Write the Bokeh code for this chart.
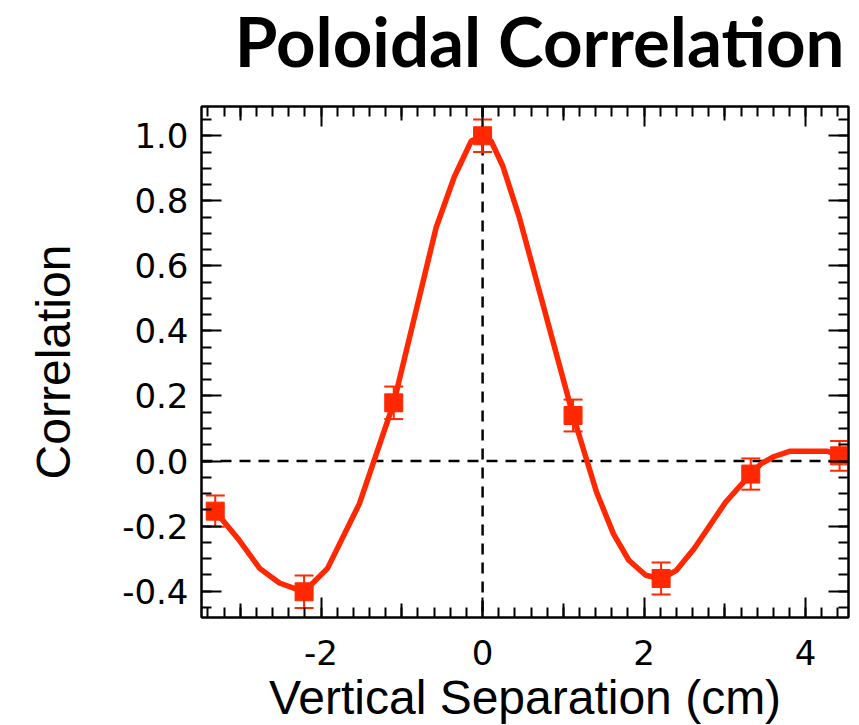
from bokeh.plotting import figure
from bokeh.models import (Range1d, LinearAxis, FixedTicker, Span, Whisker,
                          ColumnDataSource, TeeHead, Label)
from bokeh.embed import file_html
from bokeh.resources import INLINE

# Measured poloidal correlation versus vertical probe separation
SEPARATION = [-3.31, -2.21, -1.10, 0.0, 1.12, 2.21, 3.32, 4.42]
CORRELATION = [-0.154, -0.402, 0.179, 1.0, 0.140, -0.361, -0.040, 0.016]
ERROR = [0.048, 0.050, 0.050, 0.050, 0.049, 0.049, 0.048, 0.046]

# Smooth fit drawn through the measurements
FIT_X = [-3.31, -3.03, -2.76, -2.515, -2.21, -1.92, -1.525, -1.10, -0.575,
         -0.35, -0.14, 0.0, 0.105, 0.25, 0.455, 1.12, 1.41, 1.62, 1.81, 2.02,
         2.21, 2.40, 2.62, 3.01, 3.32, 3.45, 3.61, 3.80, 4.27, 4.42]
FIT_Y = [-0.154, -0.238, -0.330, -0.375, -0.402, -0.330, -0.131, 0.179, 0.718,
         0.874, 0.984, 1.0, 0.984, 0.907, 0.749, 0.140, -0.095, -0.224, -0.305,
         -0.351, -0.362, -0.336, -0.269, -0.126, -0.040, -0.008, 0.014, 0.030,
         0.030, 0.016]

X_TICKS = [-2, 0, 2, 4]
X_TICK_LABELS = ["-2", "0", "2", "4"]
X_MID_TICKS = [-3, -1, 1, 3]
X_MINOR_TICKS = [round(-3.4 + 0.2 * i, 1) for i in range(40)]
Y_TICKS = [-0.4, -0.2, 0.0, 0.2, 0.4, 0.6, 0.8, 1.0]
Y_TICK_LABELS = ["-0.4", "-0.2", "0.0", "0.2", "0.4", "0.6", "0.8", "1.0"]
Y_MINOR_TICKS = [round(-0.45 + 0.05 * i, 2) for i in range(31)]

X_RANGE = (-3.48, 4.53)
Y_RANGE = (-0.481, 1.09)

TITLE = "Poloidal Correlation"
X_LABEL = "Vertical Separation (cm)"
Y_LABEL = "Correlation"

RED = "#ff2800"
LABEL_FONT = "Liberation Sans"
TICK_FONT = "DejaVu Sans"

BORDER_LEFT, BORDER_RIGHT, BORDER_TOP, BORDER_BOTTOM = 201, 11, 106, 108
WIDTH, HEIGHT = 859, 725
FRAME_W = WIDTH - BORDER_LEFT - BORDER_RIGHT

p = figure(width=WIDTH, height=HEIGHT, title=None,
           x_range=Range1d(*X_RANGE), y_range=Range1d(*Y_RANGE),
           output_backend="svg", toolbar_location=None,
           x_axis_location=None, y_axis_location=None,
           min_border_left=BORDER_LEFT, min_border_right=BORDER_RIGHT,
           min_border_top=BORDER_TOP, min_border_bottom=BORDER_BOTTOM)
p.grid.visible = False
p.outline_line_color = "black"
p.outline_line_width = 2
p.background_fill_color = "white"
p.border_fill_color = "white"


def styled_axis(ticks, minor, labels, major_len, minor_len, show_line=True):
    ax = LinearAxis(ticker=FixedTicker(ticks=ticks, minor_ticks=minor))
    ax.major_tick_in = major_len
    ax.major_tick_out = 0
    ax.minor_tick_in = minor_len
    ax.minor_tick_out = 0
    ax.major_tick_line_width = 2
    ax.minor_tick_line_width = 2
    ax.major_tick_line_color = "black"
    ax.minor_tick_line_color = "black"
    ax.axis_line_width = 2
    ax.axis_line_color = "black" if show_line else None
    if labels is None:
        ax.major_label_overrides = {t: "" for t in ticks}
        ax.major_label_text_font_size = "0px"
        ax.major_label_standoff = 0
    else:
        ax.major_label_overrides = dict(zip(ticks, labels))
        ax.major_label_text_font = TICK_FONT
        ax.major_label_text_font_size = "34px"
        ax.major_label_text_color = "black"
    return ax


# odd-integer ticks of intermediate length on bottom and top edges
p.add_layout(styled_axis(X_MID_TICKS, [], None, 14, 0, show_line=False), "below")
bottom = styled_axis(X_TICKS, X_MINOR_TICKS, X_TICK_LABELS, 20, 10)
bottom.major_label_standoff = 22
p.add_layout(bottom, "below")

# x-axis title in its own strip under the tick labels
p.add_layout(Label(x=FRAME_W / 2, y=23, x_units="screen", y_units="screen",
                   text=X_LABEL, text_align="center", text_baseline="alphabetic",
                   text_font=LABEL_FONT, text_font_size="48px",
                   text_color="black"), "below")

p.add_layout(styled_axis(X_MID_TICKS, [], None, 14, 0, show_line=False), "above")
p.add_layout(styled_axis(X_TICKS, X_MINOR_TICKS, None, 20, 10), "above")

# chart title, right-aligned over the frame
p.add_layout(Label(x=FRAME_W - 4, y=66, x_units="screen", y_units="screen",
                   text=TITLE, text_align="right", text_baseline="alphabetic",
                   text_font="Lato", text_font_style="bold", text_font_size="69px",
                   text_color="black"), "above")

left = styled_axis(Y_TICKS, Y_MINOR_TICKS, Y_TICK_LABELS, 20, 10)
left.major_label_standoff = 13
left.axis_label = Y_LABEL
left.axis_label_text_font = LABEL_FONT
left.axis_label_text_font_size = "48px"
left.axis_label_text_font_style = "normal"
left.axis_label_text_color = "black"
left.axis_label_standoff = 39
p.add_layout(left, "left")

p.add_layout(styled_axis(Y_TICKS, Y_MINOR_TICKS, None, 20, 10), "right")

# reference lines at zero separation and zero correlation
for dim in ("width", "height"):
    p.add_layout(Span(location=0, dimension=dim, line_color="black",
                      line_width=2.5, line_dash="11 8", level="underlay"))

# fit curve
p.line(FIT_X, FIT_Y, line_color=RED, line_width=5.5)

# measurements with error bars
src = ColumnDataSource(data=dict(
    x=SEPARATION, y=CORRELATION,
    upper=[c + e for c, e in zip(CORRELATION, ERROR)],
    lower=[c - e for c, e in zip(CORRELATION, ERROR)],
))
p.add_layout(Whisker(base="x", upper="upper", lower="lower", source=src,
                     line_color=RED, line_width=2,
                     upper_head=TeeHead(size=19, line_color=RED, line_width=2),
                     lower_head=TeeHead(size=19, line_color=RED, line_width=2)))
p.scatter("x", "y", source=src, marker="square", size=18,
          fill_color=RED, line_color=RED)

open("out.html", "w").write(file_html(p, INLINE))
